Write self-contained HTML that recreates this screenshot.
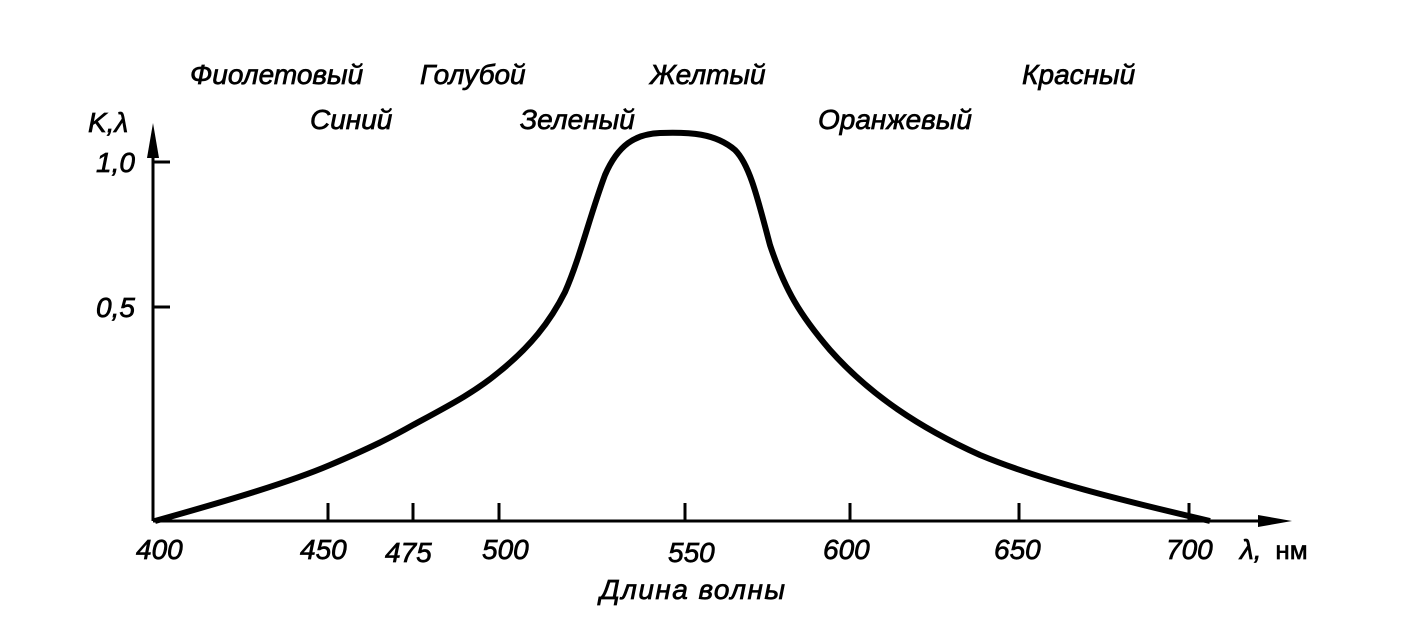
<!DOCTYPE html>
<html><head><meta charset="utf-8"><style>
body{margin:0;background:#fff;}
svg text{font-family:"Liberation Sans",sans-serif;font-style:italic;font-size:28px;fill:#000;stroke:#000;stroke-width:0.7px;}
</style></head><body>
<svg width="1405" height="625" viewBox="0 0 1405 625" xmlns="http://www.w3.org/2000/svg">
<rect width="1405" height="625" fill="#fff"/>
<g stroke="#000" stroke-width="3" fill="none">
<line x1="153" y1="521" x2="153" y2="135"/>
<line x1="153" y1="521" x2="1270" y2="521"/>
<line x1="153" y1="162" x2="170" y2="162"/>
<line x1="153" y1="307" x2="170" y2="307"/>
<line x1="328" y1="521" x2="328" y2="503"/>
<line x1="413" y1="521" x2="413" y2="503"/>
<line x1="499" y1="521" x2="499" y2="503"/>
<line x1="685" y1="521" x2="685" y2="503"/>
<line x1="850" y1="521" x2="850" y2="503"/>
<line x1="1019" y1="521" x2="1019" y2="503"/>
<line x1="1189" y1="521" x2="1189" y2="503"/>
</g>
<polygon points="153,123 147,158 159,158" fill="#000"/>
<polygon points="1292,521 1258,515 1258,527" fill="#000"/>
<path d="M155,521 C230,500 290,482 330,465 C370,448 390,438 413,425 C450,405 475,392 499,372 C530,347 550,322 565,292 C580,258 590,215 605,175 C618,145 635,134 660,133 C690,132 715,133 735,150 C750,165 758,200 770,245 C785,290 800,315 830,350 C870,395 920,428 980,455 C1040,480 1120,500 1210,521" stroke="#000" stroke-width="6" fill="none"/>
<text x="88" y="132">K,λ</text>
<text x="96" y="172">1,0</text>
<text x="96" y="317">0,5</text>
<text x="136" y="559">400</text>
<text x="300" y="559">450</text>
<text x="385" y="562">475</text>
<text x="482" y="559">500</text>
<text x="668" y="562">550</text>
<text x="823" y="559">600</text>
<text x="994" y="559">650</text>
<text x="1166" y="559">700</text>
<text x="1240" y="559">λ, <tspan font-style="normal" font-size="26" dx="6">нм</tspan></text>
<text x="600" y="599" textLength="185">Длина волны</text>
<text x="190" y="84">Фиолетовый</text>
<text x="420" y="84">Голубой</text>
<text x="650" y="84">Желтый</text>
<text x="1022" y="84">Красный</text>
<text x="310" y="129">Синий</text>
<text x="520" y="129">Зеленый</text>
<text x="818" y="129">Оранжевый</text>
</svg>
</body></html>
